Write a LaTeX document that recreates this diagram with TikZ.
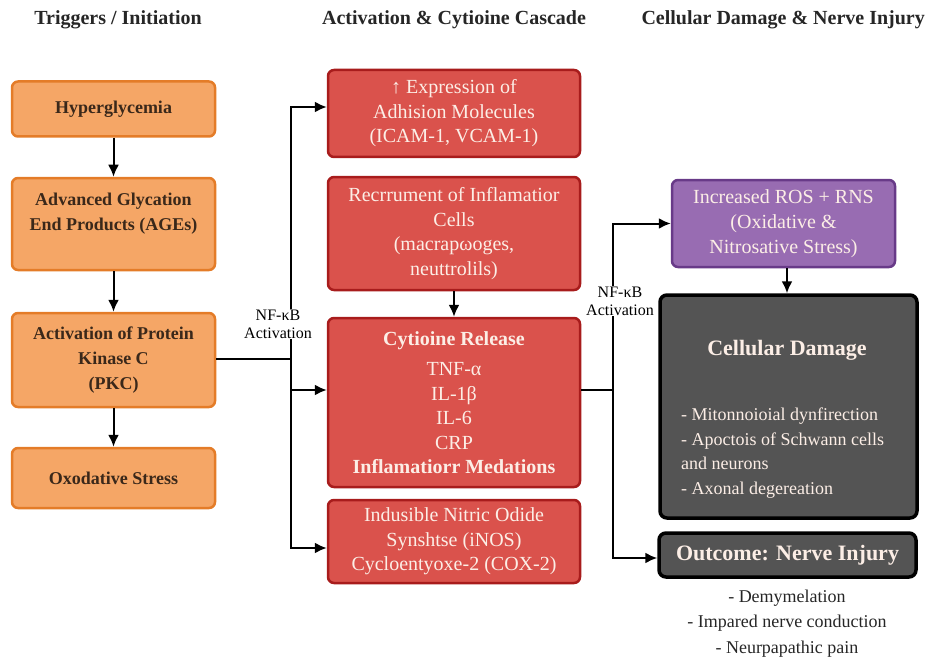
\documentclass[tikz,border=0pt]{standalone}
\usepackage{fontspec}
\setmainfont{LiberationSerif}[Extension=.ttf, UprightFont=*-Regular, BoldFont=*-Bold, ItalicFont=*-Italic, BoldItalicFont=*-BoldItalic]
\usetikzlibrary{arrows.meta}

\definecolor{trigfill}{RGB}{245,166,102}
\definecolor{trigedge}{RGB}{228,124,40}
\definecolor{trigtext}{RGB}{58,40,26}
\definecolor{cascfill}{RGB}{218,82,76}
\definecolor{cascedge}{RGB}{168,28,28}
\definecolor{rosfill}{RGB}{152,108,178}
\definecolor{rosedge}{RGB}{104,58,136}
\definecolor{dmgfill}{RGB}{84,84,84}
\definecolor{boxtext}{RGB}{252,238,230}

\begin{document}
\begin{tikzpicture}[x=1pt,y=-1pt,
  >={Latex[length=12pt,width=11pt]},
  heading/.style={text=black!85, font=\fontsize{20}{24}\selectfont\bfseries},
  trigbox/.style={draw=trigedge, fill=trigfill, line width=2.5pt, rounded corners=6pt,
    minimum width=203pt, text=trigtext, align=center,
    font=\fontsize{18}{25}\selectfont\bfseries},
  cascbox/.style={draw=cascedge, fill=cascfill, line width=2.5pt, rounded corners=6pt,
    minimum width=252pt, text=boxtext, align=center,
    font=\fontsize{20}{24.5}\selectfont},
  rosbox/.style={draw=rosedge, fill=rosfill, line width=2.5pt, rounded corners=6pt,
    minimum width=223pt, text=boxtext, align=center,
    font=\fontsize{20}{25}\selectfont},
  dmgbox/.style={draw=black, fill=dmgfill, line width=3.5pt, rounded corners=7pt,
    minimum width=257pt, text=boxtext},
  nflabel/.style={fill=white, inner sep=1pt, align=center,
    font=\fontsize{16}{18}\selectfont},
  link/.style={line width=2pt}]
\useasboundingbox (0,0) rectangle (929,658);

% column headings
\node[heading] (h1) at (118,20) {Triggers / Initiation};
\node[heading] (h2) at (454,20) {Activation \& Cytioine Cascade};
\node[heading, anchor=west] (h3) at (638,20) {Cellular Damage \& Nerve Injury};

% triggers
\node[trigbox, minimum height=55pt] (hyper) at (113.5,109) {Hyperglycemia};
\node[trigbox, minimum height=92pt] (ages) at (113.5,224) {Advanced Glycation\\End Products (AGEs)\\\mbox{}};
\node[trigbox, minimum height=94pt] (pkc) at (113.5,360) {Activation of Protein\\Kinase C\\(PKC)};
\node[trigbox, minimum height=60pt] (oxo) at (113.5,478) {Oxodative Stress};

% cascade
\node[cascbox, minimum height=87pt] (adh) at (454,113.5) {↑ Expression of\\Adhision Molecules\\(ICAM-1, VCAM-1)};
\node[cascbox, minimum height=113pt] (recr) at (454,233.5) {Recrrument of Inflamatior\\Cells\\(macrapωoges,\\neuttrolils)};
\node[cascbox, minimum height=169pt] (cyto) at (454,402.5) {\textbf{Cytioine Release}\\[6pt]TNF-α\\IL-1β\\IL-6\\CRP\\\textbf{Inflamatiorr Medations}};
\node[cascbox, minimum height=83pt] (inos) at (454,541.5) {Indusible Nitric Odide\\Synshtse (iNOS)\\Cycloentyoxe-2 (COX-2)};

% damage
\node[rosbox, minimum height=87pt] (ros) at (783.5,223.5) {Increased ROS + RNS\\(Oxidative \&\\Nitrosative Stress)};
\node[dmgbox, minimum height=223pt] (dmg) at (788.5,406.5) {};
\node[text=boxtext, font=\fontsize{22}{26}\selectfont\bfseries] (dmgtitle) at (787,350) {Cellular Damage};
\node[text=boxtext, anchor=north west, align=left, inner sep=0pt,
  font=\fontsize{18}{24.5}\selectfont] (dmglist) at (681,408) {- Mitonnoioial dynfirection\\- Apoctois of Schwann cells\\and neurons\\- Axonal degereation};
\node[dmgbox, minimum height=44pt, font=\fontsize{22}{26}\selectfont\bfseries] (out) at (787.5,555) {Outcome: Nerve Injury};
\node[anchor=north, align=center, text=black!85, font=\fontsize{18}{25.5}\selectfont] (outlist) at (787,586) {- Demymelation\\- Impared nerve conduction\\- Neurpapathic pain};

% connectors
\coordinate (j1) at (291,359);
\coordinate (j2) at (613,390);

\path[draw,link,->] (hyper) -- (ages);
\path[draw,link,->] (ages) -- (pkc);
\path[draw,link,->] (pkc) -- (oxo);
\path[draw,link,->] (recr) -- (cyto);
\path[draw,link,->] (ros.south -| 787,0) -- (dmg.north -| 787,0);

\path[draw,link] ([yshift=1pt]pkc.east) -- (j1);
\path[draw,link,->] (j1) |- ([yshift=6.5pt]adh.west);
\path[draw,link,->] (j1) |- ([yshift=12.5pt]cyto.west);
\path[draw,link,->] (j1) |- ([yshift=-6.5pt]inos.west);

\path[draw,link] ([yshift=12.5pt]cyto.east) -- (j2);
\path[draw,link,->] (j2) |- (ros.west);
\path[draw,link,->] (j2) |- ([yshift=-3pt]out.west);

\node[nflabel] (nf1) at (278,324) {NF-κB\\Activation};
\node[nflabel] (nf2) at (620,301) {NF-κB\\Activation};
\end{tikzpicture}
\end{document}
